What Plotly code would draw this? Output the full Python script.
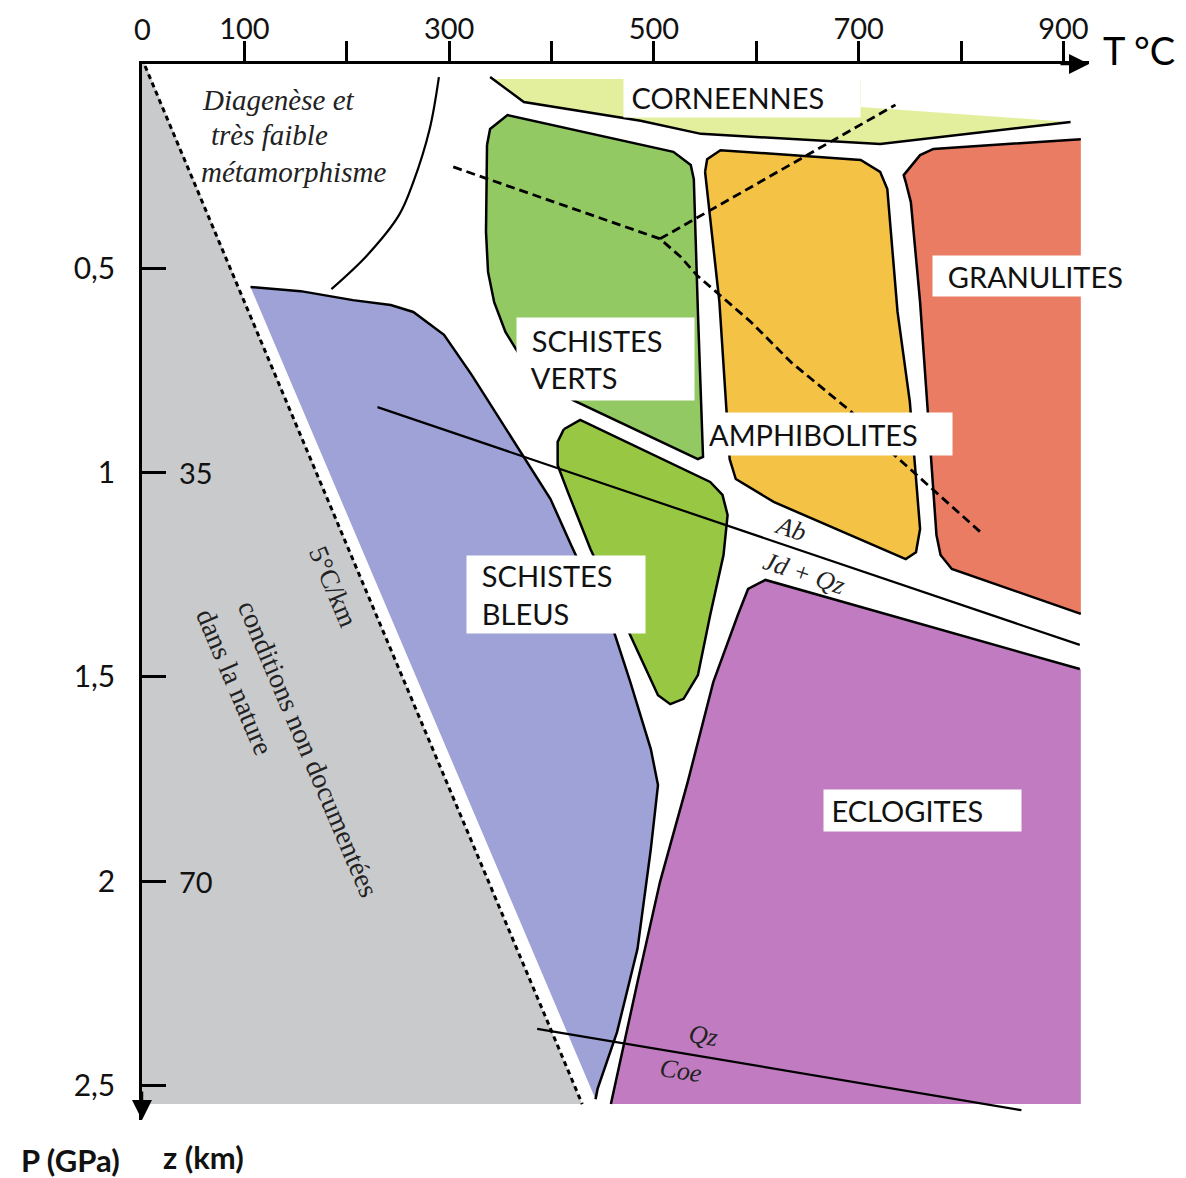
import plotly.graph_objects as go

# ---------------- data (T in °C, P in GPa) ----------------
X_TICKS = [100, 200, 300, 400, 500, 600, 700, 800, 900]
X_TICK_TEXT = ["100", "", "300", "", "500", "", "700", "", "900"]
Y_TICKS = [0.5, 1, 1.5, 2, 2.5]
Y_TICK_TEXT = ["0,5", "1", "1,5", "2", "2,5"]
DEPTH_P = [1, 2]
DEPTH_TEXT = ["35", "70"]

GEOTHERM_T = [3, 430]
GEOTHERM_P = [0.005, 2.546]
GREY_T = [0, 3, 430, 0]
GREY_P = [0, 0, 2.546, 2.546]

BLUE_T = [106, 155, 206, 243, 265, 295, 322, 347, 374, 399, 419, 438, 461, 477, 497, 504, 497, 484, 464, 445, 443]
BLUE_P = [0.546, 0.556, 0.578, 0.590, 0.607, 0.663, 0.761, 0.859, 0.967, 1.065, 1.177, 1.280, 1.390, 1.513, 1.677, 1.765, 1.922, 2.166, 2.370, 2.509, 2.534]

VERTS_T = [337, 340, 357, 519, 536, 539, 543, 546, 548, 543, 421, 394, 367, 355, 344, 338, 336]
VERTS_P = [0.198, 0.159, 0.125, 0.215, 0.247, 0.282, 0.607, 0.827, 0.962, 0.967, 0.823, 0.773, 0.705, 0.656, 0.583, 0.509, 0.411]

GREEN2_T = [412, 428, 555, 567, 572, 568, 555, 543, 529, 516, 504, 477, 438, 416, 406, 406]
GREEN2_P = [0.894, 0.871, 1.023, 1.055, 1.104, 1.202, 1.349, 1.496, 1.554, 1.567, 1.545, 1.398, 1.187, 1.048, 0.982, 0.925]

AMPH_T = [550, 552, 565, 702, 721, 728, 738, 750, 760, 756, 746, 723, 617, 580, 574, 564, 555]
AMPH_P = [0.264, 0.233, 0.211, 0.235, 0.264, 0.306, 0.607, 0.827, 1.138, 1.195, 1.212, 1.187, 1.072, 1.016, 0.967, 0.583, 0.387]

GRAN_T = [917, 773, 760, 744, 746, 751, 760, 776, 780, 791, 917]
GRAN_P = [0.184, 0.208, 0.223, 0.272, 0.289, 0.338, 0.583, 1.153, 1.202, 1.236, 1.346]

ECLO_T = [916, 609, 592, 582, 558, 533, 506, 484, 458]
ECLO_P = [1.481, 1.263, 1.285, 1.349, 1.513, 1.758, 2.002, 2.247, 2.546]
ECLO_RIGHT_T = 917
ECLO_BOTTOM_P = 2.546

CORNE_TOP_T = [345, 702, 702]
CORNE_TOP_P = [0.037, 0.037, 0.105]
CORNE_LINE_T = [907, 721, 546, 487, 373, 340]
CORNE_LINE_P = [0.142, 0.196, 0.171, 0.139, 0.093, 0.032]

DIAG_T = [290, 281, 265, 251, 220, 185]
DIAG_P = [0.032, 0.159, 0.289, 0.370, 0.468, 0.551]

AB_T = [230, 916]
AB_P = [0.840, 1.422]
QZ_T = [386, 859]
QZ_P = [2.362, 2.561]

DASH_A_T = [304, 506, 526, 542, 595, 634, 693, 734, 819]
DASH_A_P = [0.252, 0.428, 0.472, 0.517, 0.632, 0.730, 0.852, 0.955, 1.146]
DASH_B_T = [506, 736]
DASH_B_P = [0.428, 0.100]

# facies label boxes: text, T (left), P (top), box width, box height
FACIES_LABELS = [
    ("\u00a0CORNEENNES", 470, 0.032, 236, 39),
    ("\u00a0\u00a0GRANULITES", 772, 0.468, 198, 40),
    ("\u00a0\u00a0SCHISTES<br>\u00a0\u00a0VERTS", 365, 0.619, 177, 82),
    ("AMPHIBOLITES", 553, 0.852, 243, 42),
    ("\u00a0\u00a0SCHISTES<br>\u00a0\u00a0BLEUS", 316, 1.202, 178, 77),
    ("\u00a0ECLOGITES", 665, 1.775, 197, 41),
]

C_GREY = "#c9cacc"
C_BLUE = "#9ea2d7"
C_VERTS = "#93c963"
C_GREEN2 = "#98c744"
C_AMPH = "#f4c244"
C_GRAN = "#e97c63"
C_ECLO = "#c17cc1"
C_CORNE = "#e4ef9e"

SANS = "Lato, 'Open Sans', sans-serif"
SERIF = "'Liberation Serif', 'DejaVu Serif', serif"
LW = 2.5

fig = go.Figure()


def fill(xs, ys, color, outline=False):
    fig.add_trace(go.Scatter(
        x=xs + [xs[0]], y=ys + [ys[0]], mode="lines", fill="toself",
        fillcolor=color,
        line=dict(color="black" if outline else color, width=LW if outline else 0),
        hoverinfo="skip", showlegend=False))


def line(xs, ys, width=LW, dash=None, shape="linear"):
    fig.add_trace(go.Scatter(
        x=xs, y=ys, mode="lines",
        line=dict(color="black", width=width, dash=dash, shape=shape),
        hoverinfo="skip", showlegend=False))


# regions
fill(GREY_T, GREY_P, C_GREY)
fill(BLUE_T, BLUE_P, C_BLUE)
line(BLUE_T, BLUE_P)
fill(VERTS_T, VERTS_P, C_VERTS, outline=True)
fill(GREEN2_T, GREEN2_P, C_GREEN2, outline=True)
fill(AMPH_T, AMPH_P, C_AMPH, outline=True)
fill(GRAN_T, GRAN_P, C_GRAN)
line(GRAN_T, GRAN_P)
fill(ECLO_T + [ECLO_RIGHT_T, ECLO_RIGHT_T], ECLO_P + [ECLO_BOTTOM_P, ECLO_P[0]], C_ECLO)
line(ECLO_T, ECLO_P)
fill(CORNE_TOP_T + CORNE_LINE_T, CORNE_TOP_P + CORNE_LINE_P, C_CORNE)
line(CORNE_LINE_T, CORNE_LINE_P)

# boundaries
line(DIAG_T, DIAG_P, width=2.2, shape="spline")
line(AB_T, AB_P, width=2.2)
line(QZ_T, QZ_P, width=2.2)
line(DASH_A_T, DASH_A_P, width=2.8, dash="9px,5px")
line(DASH_B_T, DASH_B_P, width=2.8, dash="9px,5px")
line(GEOTHERM_T, GEOTHERM_P, width=3, dash="5px,4px")

ann = []
for text, t, p, w, h in FACIES_LABELS:
    ann.append(dict(x=t, y=p, xref="x", yref="y", xanchor="left", yanchor="top",
                    text=text, showarrow=False, bgcolor="white", borderpad=0,
                    width=w, height=h, align="left", valign="middle",
                    font=dict(family=SANS, size=29, color="#111")))

# italic / serif notes
notes = [
    dict(x=57, y=0.088, text="<i>Diagenèse et</i>"),
    dict(x=65, y=0.174, text="<i>très faible</i>"),
    dict(x=56, y=0.264, text="<i>métamorphisme</i>"),
]
for a in notes:
    a.update(xref="x", yref="y", xanchor="left", yanchor="middle", showarrow=False,
             font=dict(family=SERIF, size=29, color="#222"))
ann += notes

rot = [
    dict(x=187, y=1.28, text="5°C/km", size=27),
    dict(x=163, y=1.677, text="conditions non documentées", size=28),
    dict(x=91, y=1.513, text="dans la nature", size=28),
]
for r in rot:
    ann.append(dict(x=r["x"], y=r["y"], xref="x", yref="y", text=r["text"],
                    textangle=67, showarrow=False,
                    font=dict(family=SERIF, size=r["size"], color="#222")))

reac = [
    dict(x=633, y=1.138, text="<i>Ab</i>", textangle=18.5),
    dict(x=647, y=1.248, text="<i>Jd + Qz</i>", textangle=18.5),
    dict(x=548, y=2.377, text="<i>Qz</i>", textangle=9),
    dict(x=526, y=2.463, text="<i>Coe</i>", textangle=9),
]
for a in reac:
    a.update(xref="x", yref="y", showarrow=False,
             font=dict(family=SERIF, size=26, color="#222"))
ann += reac

# depth labels
for p, txt in zip(DEPTH_P, DEPTH_TEXT):
    ann.append(dict(x=34, y=p, xref="x", yref="y", text=txt, xanchor="left",
                    showarrow=False, font=dict(family=SANS, size=29, color="#111")))

# axis decorations (paper coordinates, relative to the plot area)
deco = [
    dict(x=0, y=1.034, text="0", font=dict(family=SANS, size=29, color="#111")),
    dict(x=1.053, y=1.013, text="T °C", font=dict(family=SANS, size=38, color="#000")),
    dict(x=-0.075, y=-0.038, text="<b>P (GPa)</b>", font=dict(family=SANS, size=31, color="#111")),
    dict(x=0.065, y=-0.035, text="<b>z (km)</b>", font=dict(family=SANS, size=31, color="#111")),
]
for a in deco:
    a.update(xref="paper", yref="paper", xanchor="center", yanchor="middle", showarrow=False)
ann += deco
ann += [
    dict(x=1, y=1, xref="paper", yref="paper", ax=-30, ay=0, text="",
         showarrow=True, arrowhead=2, arrowsize=1.6, arrowwidth=2.5, arrowcolor="black"),
    dict(x=0, y=0, xref="paper", yref="paper", ax=0, ay=-30, text="",
         showarrow=True, arrowhead=2, arrowsize=1.6, arrowwidth=2.5, arrowcolor="black"),
]

fig.update_layout(
    width=1186, height=1178,
    margin=dict(l=134, r=105, t=56, b=66),
    paper_bgcolor="white", plot_bgcolor="white",
    showlegend=False,
    annotations=ann,
    xaxis=dict(range=[0, 925], side="top", showline=True, linecolor="black",
               linewidth=2.5, ticks="outside", ticklen=20, tickwidth=2.5,
               tickcolor="black", tickvals=X_TICKS, ticktext=X_TICK_TEXT,
               tickfont=dict(family=SANS, size=29, color="#111"),
               ticklabelstandoff=-9,
               showgrid=False, zeroline=False, automargin=False),
    yaxis=dict(range=[2.585, 0], showline=True, linecolor="black",
               linewidth=2.5, ticks="inside", ticklen=24, tickwidth=2.5,
               tickcolor="black", tickvals=Y_TICKS, ticktext=Y_TICK_TEXT,
               tickfont=dict(family=SANS, size=30, color="#111"),
               ticklabelstandoff=18, showgrid=False, zeroline=False,
               automargin=False),
)

fig.write_html("out.html")
